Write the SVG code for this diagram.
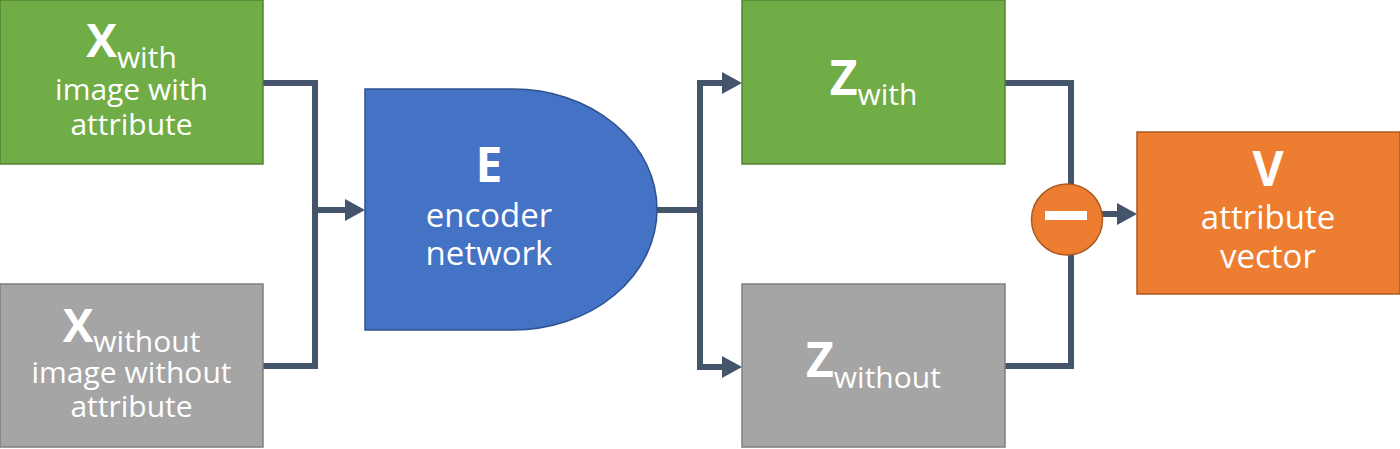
<svg xmlns="http://www.w3.org/2000/svg" width="1400" height="449" viewBox="0 0 1400 449">
<style>
.t{font-family:"Open Sans","Noto Sans","DejaVu Sans",sans-serif;fill:#fff;text-anchor:middle}
.s{font-size:30px}
.m{font-size:33px}
.b{font-weight:bold;font-size:46px}
.bz{font-weight:bold;font-size:48px}
.green{fill:#70AD47;stroke:#548235;stroke-width:1.5}
.gray{fill:#A5A5A5;stroke:#7F7F7F;stroke-width:1.5}
.blue{fill:#4472C4;stroke:#2F528F;stroke-width:1.5}
.orange{fill:#ED7D31;stroke:#AE5A21;stroke-width:1.5}
.c{fill:none;stroke:#44546A;stroke-width:6;stroke-linejoin:miter}
</style>
<defs>
<marker id="ah" markerUnits="userSpaceOnUse" markerWidth="21" markerHeight="23" refX="0" refY="11" orient="auto">
<path d="M0,0 L20,11 L0,22 Z" fill="#44546A"/>
</marker>
</defs>
<g id="connectors">
<path class="c" d="M263,83 H315 V366 H263"/>
<path class="c" d="M315,210 H345" marker-end="url(#ah)"/>
<path class="c" d="M657,210 H700"/>
<path class="c" d="M722,83 H700 V367 H722"/>
<path class="c" d="M700,83 H722" marker-end="url(#ah)"/>
<path class="c" d="M700,367 H722" marker-end="url(#ah)"/>
<path class="c" d="M1005,83 H1071 V184"/>
<path class="c" d="M1005,366 H1071 V255"/>
<path class="c" d="M1102,214 H1117" marker-end="url(#ah)"/>
</g>
<g id="x_with">
<rect class="green" x="0" y="0" width="263" height="164"/>
<text class="t s" x="131.5" y="57"><tspan class="b">X</tspan><tspan dy="11">with</tspan></text>
<text class="t s" x="131.5" y="100">image with</text>
<text class="t s" x="131.5" y="135">attribute</text>
</g>
<g id="x_without">
<rect class="gray" x="0" y="284" width="263" height="163"/>
<text class="t s" x="131.5" y="342"><tspan class="b">X</tspan><tspan dy="10">without</tspan></text>
<text class="t s" x="131.5" y="383">image without</text>
<text class="t s" x="131.5" y="417">attribute</text>
</g>
<g id="encoder">
<path class="blue" d="M365,89 H513 A144,120.5 0 0 1 513,330 H365 Z"/>
<text class="t bz" x="489" y="182">E</text>
<text class="t m" x="489" y="227">encoder</text>
<text class="t m" x="489" y="265">network</text>
</g>
<g id="z_with">
<rect class="green" x="742" y="0" width="263" height="164"/>
<text class="t s" x="873.5" y="95"><tspan class="bz">Z</tspan><tspan dy="10">with</tspan></text>
</g>
<g id="z_without">
<rect class="gray" x="742" y="284" width="263" height="163"/>
<text class="t s" x="873.5" y="377"><tspan class="bz">Z</tspan><tspan dy="11">without</tspan></text>
</g>
<g id="minus">
<circle class="orange" cx="1067" cy="219.5" r="35.5"/>
<rect x="1045" y="211" width="42" height="9" fill="#fff"/>
</g>
<g id="v">
<rect class="orange" x="1137" y="132" width="263" height="162"/>
<text class="t bz" x="1268" y="186">V</text>
<text class="t m" x="1268" y="229">attribute</text>
<text class="t m" x="1268" y="268">vector</text>
</g>
</svg>
